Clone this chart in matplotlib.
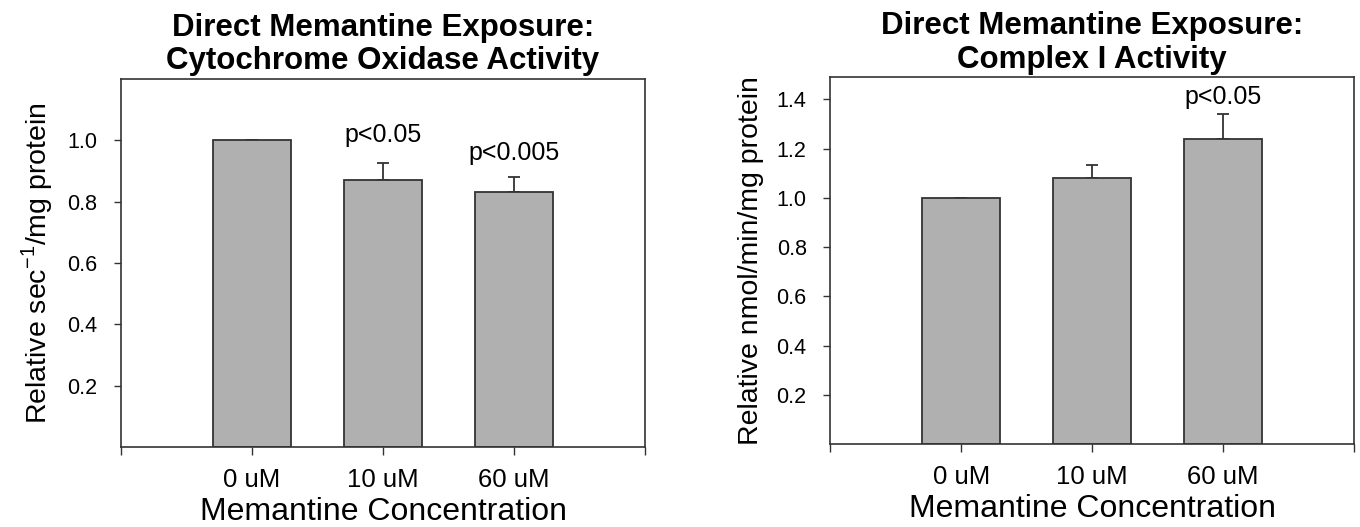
import numpy as np
import matplotlib
matplotlib.use("Agg")
import matplotlib.pyplot as plt

plt.rcParams['font.family'] = ['Liberation Sans', 'DejaVu Sans']

categories = ["0 uM", "10 uM", "60 uM"]

# cytochrome oxidase (left)
cox_mean = [1.0, 0.87, 0.83]
cox_err = [0.0, 0.057, 0.05]
cox_sig = ["", "p<0.05", "p<0.005"]

# complex I (right)
c1_mean = [1.0, 1.08, 1.24]
c1_err = [0.0, 0.055, 0.10]
c1_sig = ["", "", "p<0.05"]

EDGE = "#333333"
FILL = "#b0b0b0"


def draw(ax, means, errs, sigs, ylim, yticks, ylabel, title, sig_y):
    x = np.arange(len(categories))
    yerr = np.vstack([np.zeros(len(errs)), errs])
    ax.bar(x, means, width=0.6, color=FILL, edgecolor=EDGE, linewidth=1.3, zorder=2)
    ax.errorbar(x, means, yerr=yerr, fmt="none", ecolor=EDGE, elinewidth=1.3,
                capsize=4.5, capthick=1.3, zorder=1)
    for xi, s, yy in zip(x, sigs, sig_y):
        if s:
            ax.text(xi, yy, s, ha="center", va="baseline", fontsize=18)
    ax.set_xlim(-1, 3)
    ax.set_ylim(*ylim)
    ax.set_xticks([-1, 0, 1, 2, 3])
    ax.set_xticklabels([""] + categories + [""], fontsize=18.5)
    ax.set_yticks(yticks)
    ax.set_yticklabels(["%.1f" % t for t in yticks], fontsize=15.5)
    ax.tick_params(axis="y", direction="out", length=5, width=1, color=EDGE, pad=12)
    ax.tick_params(axis="x", direction="out", length=6, width=1, color=EDGE, pad=9)
    for sp in ax.spines.values():
        sp.set_color(EDGE)
        sp.set_linewidth(1.2)
    ax.set_xlabel("Memantine Concentration", fontsize=23, labelpad=4)
    ax.set_ylabel(ylabel, fontsize=20.5, labelpad=9)
    ax.set_title(title, fontsize=22.5, fontweight="bold", pad=7, linespacing=1.15)


fig = plt.figure(figsize=(13.6, 5.27), dpi=100)
ax1 = fig.add_axes([0.0890, 0.1518, 0.3853, 0.6983])
ax2 = fig.add_axes([0.6105, 0.1575, 0.3851, 0.6958])

draw(ax1, cox_mean, cox_err, cox_sig, (0, 1.2), [0.2, 0.4, 0.6, 0.8, 1.0],
     r"Relative sec$^{\mathregular{-1}}$/mg protein",
     "Direct Memantine Exposure:\nCytochrome Oxidase Activity",
     [0, 0.996, 0.936])
draw(ax2, c1_mean, c1_err, c1_sig, (0, 1.49), [0.2, 0.4, 0.6, 0.8, 1.0, 1.2, 1.4],
     "Relative nmol/min/mg protein",
     "Direct Memantine Exposure:\nComplex I Activity",
     [0, 0, 1.382])

fig.savefig("out.png", dpi=100)
